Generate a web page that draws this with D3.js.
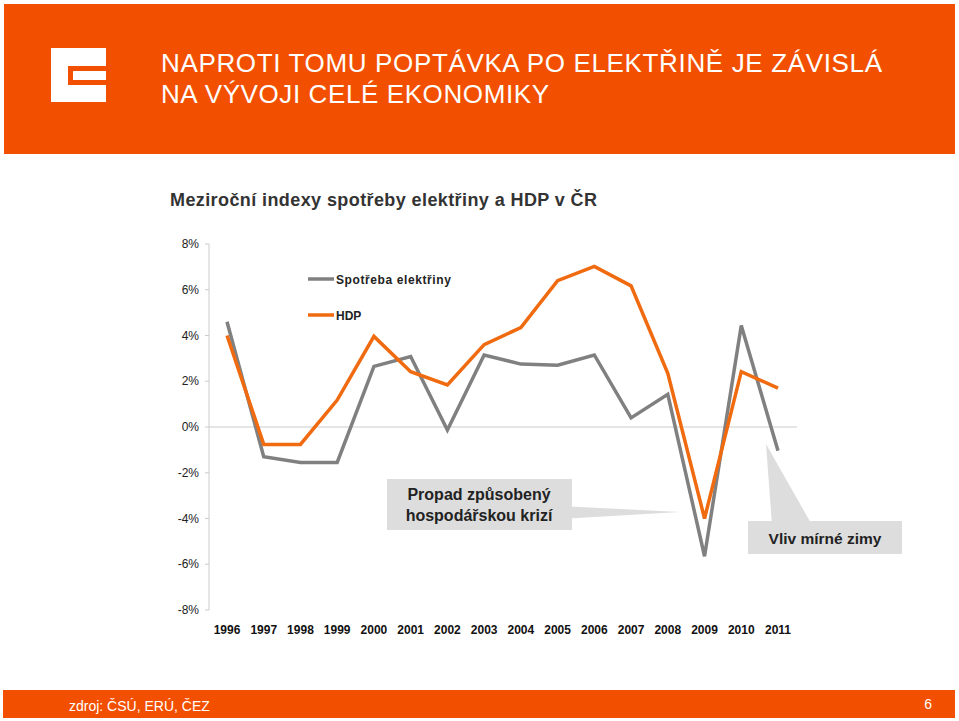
<!DOCTYPE html>
<html>
<head>
<meta charset="utf-8">
<script src="https://cdn.jsdelivr.net/npm/d3@7"></script>
<style>
  body { margin: 0; background: #fff; }
  text { font-family: "Liberation Sans", Arial, sans-serif; }
</style>
</head>
<body>
<svg id="chart" width="959" height="721"></svg>
<script>
'use strict';

// Data
var years = ['1996', '1997', '1998', '1999', '2000', '2001', '2002', '2003',
  '2004', '2005', '2006', '2007', '2008', '2009', '2010', '2011'];
var spotreba = [4.6, -1.3, -1.55, -1.55, 2.65, 3.08, -0.13, 3.15,
  2.75, 2.7, 3.15, 0.4, 1.43, -5.65, 4.44, -1.04];
var hdp = [4.0, -0.76, -0.76, 1.18, 3.96, 2.42, 1.84, 3.6,
  4.35, 6.4, 7.02, 6.17, 2.35, -4.0, 2.42, 1.7];
var yTicks = [8, 6, 4, 2, 0, -2, -4, -6, -8];

var orange = '#F25000';
var svg = d3.select('#chart');

// Header
svg.append('rect').attr('x', 4).attr('y', 4).attr('width', 951).attr('height', 150).attr('fill', orange);
// Logo
var logo = svg.append('g').attr('fill', '#fff');
logo.append('rect').attr('x', 51).attr('y', 48).attr('width', 55).attr('height', 18);
logo.append('rect').attr('x', 51).attr('y', 48).attr('width', 17).attr('height', 54);
logo.append('rect').attr('x', 73).attr('y', 71).attr('width', 33).attr('height', 9);
logo.append('rect').attr('x', 51).attr('y', 85).attr('width', 55).attr('height', 17);
svg.append('text').attr('x', 161).attr('y', 72).attr('fill', '#fff').attr('font-size', 26)
  .attr('textLength', 721).text('NAPROTI TOMU POPTÁVKA PO ELEKTŘINĚ JE ZÁVISLÁ');
svg.append('text').attr('x', 161).attr('y', 103).attr('fill', '#fff').attr('font-size', 26)
  .attr('textLength', 388).text('NA VÝVOJI CELÉ EKONOMIKY');

// Chart title
svg.append('text').attr('x', 170).attr('y', 206).attr('font-size', 18).attr('font-weight', 'bold')
  .attr('fill', '#333').attr('textLength', 427).text('Meziroční indexy spotřeby elektřiny a HDP v ČR');

// Scales
var x = d3.scalePoint().domain(years).range([227, 778]);
var y = d3.scaleLinear().domain([-8, 8]).range([610, 244]);

// Y axis
svg.append('line').attr('x1', 209).attr('x2', 209).attr('y1', y(8)).attr('y2', y(-8)).attr('stroke', '#ccc');
svg.selectAll('.ytick').data(yTicks).enter().append('line')
  .attr('x1', 205).attr('x2', 209).attr('y1', function(d) { return y(d); }).attr('y2', function(d) { return y(d); })
  .attr('stroke', '#ccc');
svg.selectAll('.ylab').data(yTicks).enter().append('text')
  .attr('x', 199).attr('y', function(d) { return y(d) + 4; }).attr('text-anchor', 'end')
  .attr('font-size', 12).attr('fill', '#222')
  .text(function(d) { return d + '%'; });
svg.append('line').attr('x1', 209).attr('x2', 797).attr('y1', y(0)).attr('y2', y(0)).attr('stroke', '#ccc');

// X labels
svg.selectAll('.xlab').data(years).enter().append('text')
  .attr('x', function(d) { return x(d); }).attr('y', 634).attr('text-anchor', 'middle')
  .attr('font-size', 12).attr('font-weight', 'bold').attr('fill', '#111')
  .text(function(d) { return d; });

// Annotations
svg.append('polygon').attr('points', '560,506 680,512 560,519').attr('fill', '#ddd');
svg.append('rect').attr('x', 387).attr('y', 479).attr('width', 185).attr('height', 51).attr('fill', '#ddd');
svg.append('text').attr('x', 479).attr('y', 500).attr('text-anchor', 'middle').attr('font-size', 16)
  .attr('font-weight', 'bold').attr('fill', '#222').text('Propad způsobený');
svg.append('text').attr('x', 479).attr('y', 521).attr('text-anchor', 'middle').attr('font-size', 16)
  .attr('font-weight', 'bold').attr('fill', '#222').text('hospodářskou krizí');
svg.append('polygon').attr('points', '766,444 772,525 812,525').attr('fill', '#ddd');
svg.append('rect').attr('x', 748).attr('y', 521).attr('width', 154).attr('height', 33).attr('fill', '#ddd');
svg.append('text').attr('x', 825).attr('y', 544).attr('text-anchor', 'middle').attr('font-size', 15.5)
  .attr('font-weight', 'bold').attr('fill', '#222').text('Vliv mírné zimy');

// Lines
var line = d3.line()
  .x(function(d, i) { return x(years[i]); })
  .y(function(d) { return y(d); });
svg.append('path').datum(spotreba).attr('d', line).attr('fill', 'none')
  .attr('stroke', '#808080').attr('stroke-width', 3.5);
svg.append('path').datum(hdp).attr('d', line).attr('fill', 'none')
  .attr('stroke', '#F06A10').attr('stroke-width', 3.5);

// Legend
svg.append('line').attr('x1', 308).attr('x2', 334).attr('y1', 279).attr('y2', 279).attr('stroke', '#808080').attr('stroke-width', 3.5);
svg.append('text').attr('x', 336).attr('y', 284).attr('font-size', 12).attr('font-weight', 'bold')
  .attr('fill', '#222').attr('letter-spacing', 0.6).text('Spotřeba elektřiny');
svg.append('line').attr('x1', 308).attr('x2', 334).attr('y1', 315).attr('y2', 315).attr('stroke', '#F06A10').attr('stroke-width', 3.5);
svg.append('text').attr('x', 336).attr('y', 320).attr('font-size', 12).attr('font-weight', 'bold')
  .attr('fill', '#222').text('HDP');

// Footer
svg.append('rect').attr('x', 3).attr('y', 690).attr('width', 952).attr('height', 28).attr('fill', orange);
svg.append('text').attr('x', 69).attr('y', 711).attr('font-size', 14).attr('fill', '#fff').text('zdroj: ČSÚ, ERÚ, ČEZ');
svg.append('text').attr('x', 932).attr('y', 709).attr('text-anchor', 'end').attr('font-size', 14).attr('fill', '#fff').text('6');
</script>
</body>
</html>
